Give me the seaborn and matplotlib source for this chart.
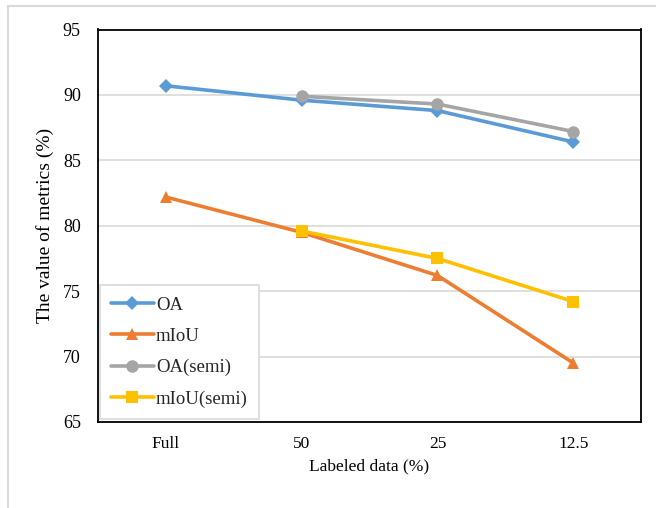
import matplotlib
matplotlib.use("Agg")
import matplotlib.pyplot as plt
import seaborn as sns
import pandas as pd
import numpy as np
from matplotlib.patches import Rectangle

categories = ["Full", "50", "25", "12.5"]
oa = [90.7, 89.6, 88.8, 86.4]
miou = [82.2, 79.5, 76.2, 69.5]
oa_semi = [np.nan, 89.9, 89.3, 87.2]
miou_semi = [np.nan, 79.6, 77.5, 74.2]
yticks = [65, 70, 75, 80, 85, 90, 95]

series = [
    ("OA", oa, "#5b9bd5", "D", 7),
    ("mIoU", miou, "#ed7d31", "^", 9),
    ("OA(semi)", oa_semi, "#a5a5a5", "o", 9),
    ("mIoU(semi)", miou_semi, "#ffc000", "s", 9),
]

sns.set_theme(style="white")
plt.rcParams["font.family"] = ["Liberation Serif", "DejaVu Serif"]

fig = plt.figure(figsize=(6.56, 5.08), dpi=100)
ax = fig.add_axes([97.5/656, 1-422/508, (641.5-97.5)/656, (422-29.5)/508])

for name, vals, color, marker, ms in series:
    df = pd.DataFrame({"x": categories, "y": vals}).dropna()
    sns.lineplot(data=df, x="x", y="y", ax=ax, color=color, marker=marker,
                 markersize=ms, linewidth=2.6, markeredgewidth=0, label=name, sort=False)

ax.set_xlim(-0.5, 3.5)
ax.set_ylim(65, 95)
ax.set_yticks(yticks)
ax.yaxis.grid(True, color="#d9d9d9", linewidth=1.2)
ax.set_axisbelow(True)
for s in ax.spines.values():
    s.set_color("black")
    s.set_linewidth(1.3)
ax.tick_params(axis="both", length=0, colors="black")
ax.tick_params(axis="y", pad=12, labelsize=13)
ax.tick_params(axis="x", pad=10, labelsize=12.5)
ax.set_xlabel("Labeled data (%)", fontsize=12.5, color="black", labelpad=5)
ax.set_ylabel("The value of metrics (%)", fontsize=14, color="black", labelpad=6)

leg = ax.legend(loc="lower left", bbox_to_anchor=(0.004, 0.008), fontsize=13.5,
                frameon=True, fancybox=False, edgecolor="#d9d9d9", framealpha=1,
                handlelength=2.3, labelspacing=0.75, borderpad=0.6, handletextpad=0.1,
                borderaxespad=0)
leg.get_frame().set_linewidth(1.2)

fig.patches.append(Rectangle((7.5/656, -0.1), 1.2, 1.1 - 6.5/508, transform=fig.transFigure,
                             fill=False, edgecolor="#d9d9d9", linewidth=1.5, zorder=0))

fig.savefig("out.png", dpi=100)
